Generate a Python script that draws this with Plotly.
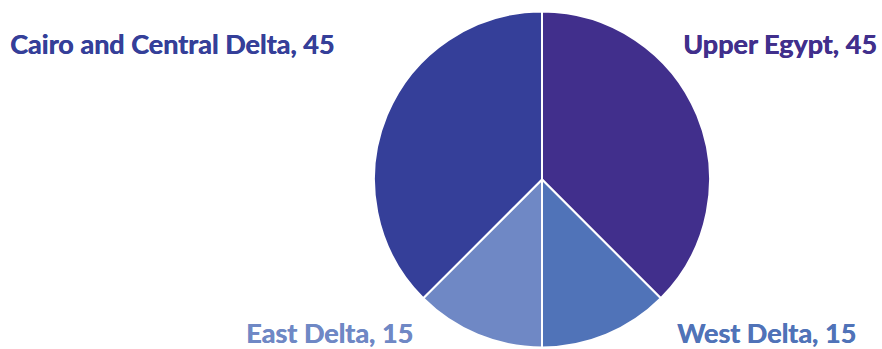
import plotly.graph_objects as go

regions = ["Upper Egypt", "West Delta", "East Delta", "Cairo and Central Delta"]
values = [45, 15, 15, 45]
colors = ["#412F8C", "#5073B8", "#6F88C5", "#353F99"]

W, H = 882, 349

fig = go.Figure(go.Pie(
    labels=regions, values=values, sort=False, direction="clockwise", rotation=0,
    marker=dict(colors=colors, line=dict(color="white", width=2)),
    textinfo="none", hoverinfo="label+value", showlegend=False,
    domain=dict(x=[374 / W, 710 / W], y=[1.5 / H, 337.5 / H]),
))

label_pos = {
    "Upper Egypt": (879, 44, "right"),
    "West Delta": (675, 332, "left"),
    "East Delta": (415, 332, "right"),
    "Cairo and Central Delta": (8, 44, "left"),
}
for r, v, c in zip(regions, values, colors):
    x, y, anchor = label_pos[r]
    fig.add_annotation(
        x=x / W, y=(H - y) / H, xref="paper", yref="paper",
        xanchor=anchor, yanchor="middle", showarrow=False,
        text=f"<b>{r}, {v}</b>",
        font=dict(family="Lato", size=27, color=c,
                  shadow=f"0.5px 0 0 {c}"),
    )

fig.update_layout(
    width=W, height=H, margin=dict(l=0, r=0, t=0, b=0),
    paper_bgcolor="white", plot_bgcolor="white",
)
fig.write_html(
    "out.html",
    config={"displayModeBar": False},
    post_script="document.body.style.margin='0';document.body.style.overflow='hidden';",
)
